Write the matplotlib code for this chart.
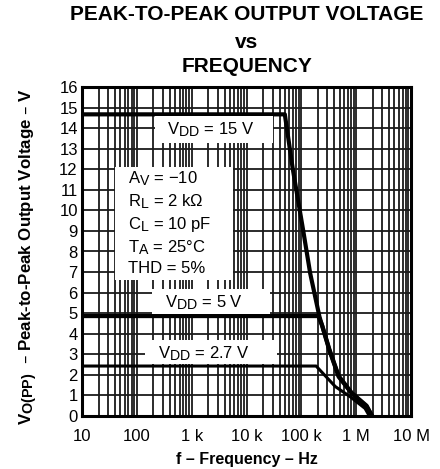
import matplotlib.pyplot as plt
import matplotlib._mathtext as mathtext_internal
from matplotlib.patches import Rectangle
from matplotlib.ticker import FixedLocator, NullFormatter

plt.rcParams['font.family'] = ['Liberation Sans', 'DejaVu Sans']
plt.rcParams['mathtext.default'] = 'regular'
# datasheet style: subscripts nearly full size
mathtext_internal.SHRINK_FACTOR = 0.85

# Curves: frequency (Hz) vs peak-to-peak output voltage (V)
f_15v = [10, 50e3, 69e3, 110e3, 145e3, 214e3, 324e3, 479e3, 832e3, 1.55e6, 1.95e6]
v_15v = [14.67, 14.67, 12.1, 8.9, 6.94, 4.83, 3.2, 1.91, 1.1, 0.46, 0.0]

f_5v = [10, 204e3, 240e3, 324e3, 479e3, 832e3, 1.55e6, 1.95e6]
v_5v = [4.86, 4.86, 4.4, 3.25, 1.95, 1.12, 0.5, 0.0]

f_2v7 = [10, 186e3, 417e3, 776e3, 1.45e6, 1.74e6]
v_2v7 = [2.43, 2.43, 1.43, 0.94, 0.37, 0.0]

x_ticks = [10, 100, 1e3, 1e4, 1e5, 1e6, 1e7]
x_labels = ['10', '100', '1 k', '10 k', '100 k', '1 M', '10 M']
y_ticks = list(range(0, 17))

fig = plt.figure(figsize=(4.40, 4.69), dpi=100)
ax = fig.add_axes([82 / 440, 1 - 416 / 469, 329 / 440, 329 / 469])

ax.set_xscale('log')
ax.set_xlim(10, 1e7)
ax.set_ylim(0, 16)

minor = [m * 10 ** d for d in range(1, 7) for m in range(2, 10)]
ax.xaxis.set_major_locator(FixedLocator(x_ticks))
ax.xaxis.set_minor_locator(FixedLocator(minor))
ax.xaxis.set_minor_formatter(NullFormatter())
ax.set_xticklabels(x_labels)
ax.set_yticks(y_ticks)

ax.grid(True, which='major', color='#1a1a1a', lw=1.3)
ax.grid(True, which='minor', axis='x', color='#1a1a1a', lw=1.3)
ax.tick_params(which='both', length=0, labelsize=12)
ax.tick_params(axis='x', pad=9)
ax.tick_params(axis='y', pad=3)
for s in ax.spines.values():
    s.set_linewidth(2.2)

ax.plot(f_15v, v_15v, color='black', lw=3, zorder=3, solid_joinstyle='round')
ax.plot(f_5v, v_5v, color='black', lw=3, zorder=3, solid_joinstyle='round')
ax.plot(f_2v7, v_2v7, color='black', lw=2.2, zorder=3, solid_joinstyle='round')

# white label boxes over the grid (axes fraction: x0, y0, x1, y1)
boxes = [(0.222, 0.830, 0.581, 0.913),
         (0.100, 0.413, 0.459, 0.757),
         (0.213, 0.310, 0.571, 0.386),
         (0.191, 0.158, 0.593, 0.231)]
for x0, y0, x1, y1 in boxes:
    ax.add_patch(Rectangle((x0, y0), x1 - x0, y1 - y0, transform=ax.transAxes,
                           fc='white', ec='none', zorder=3.5))

ax.text(0.39, 0.869, r'V$_{DD}$ = 15 V', fontsize=12, transform=ax.transAxes,
        ha='center', va='center', zorder=4)
ax.text(0.372, 0.345, r'V$_{DD}$ = 5 V', fontsize=12, transform=ax.transAxes,
        ha='center', va='center', zorder=4)
ax.text(0.37, 0.19, r'V$_{DD}$ = 2.7 V', fontsize=12, transform=ax.transAxes,
        ha='center', va='center', zorder=4)
ax.text(0.14, 0.588,
        'A$_{V}$ = \u221210\n'
        'R$_{L}$ = 2 k\u03a9\n'
        'C$_{L}$ = 10 pF\n'
        'T$_{A}$ = 25\u00b0C\n'
        'THD = 5%',
        fontsize=12, transform=ax.transAxes, ha='left', va='center',
        linespacing=1.3, zorder=4)

for text, y in [('PEAK-TO-PEAK OUTPUT VOLTAGE', 15), ('vs', 42), ('FREQUENCY', 67)]:
    fig.text(247 / 440, 1 - y / 469, text, fontsize=15,
             fontweight='bold', ha='center', va='center')

ax.set_xlabel('f \u2013 Frequency \u2013 Hz', fontsize=11.5, fontweight='bold', labelpad=6)
ax.set_ylabel('V$_{O(PP)}$  \u2013 Peak-to-Peak Output Voltage \u2013 V',
              fontsize=12.2, fontweight='bold')
ax.yaxis.set_label_coords(-0.128, 0.485)

fig.savefig('out.png', dpi=100)
